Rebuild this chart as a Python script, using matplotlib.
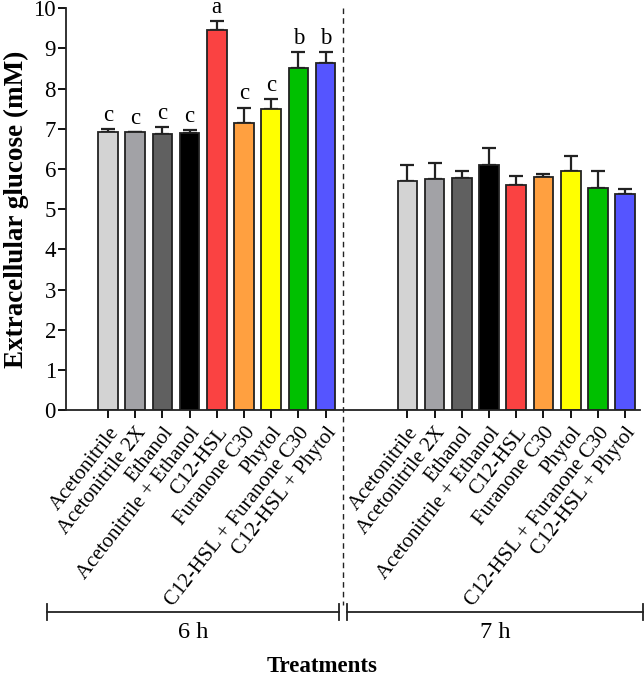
import matplotlib
matplotlib.use('Agg')
import matplotlib.pyplot as plt
from matplotlib.lines import Line2D

treatments = ['Acetonitrile', 'Acetonitrile 2X', 'Ethanol', 'Acetonitrile + Ethanol',
              'C12-HSL', 'Furanone C30', 'Phytol', 'C12-HSL + Furanone C30',
              'C12-HSL + Phytol']
colors = ['#d3d3d3', '#a2a2a6', '#606060', '#000000', '#fa4242',
          '#ffa040', '#ffff00', '#00c000', '#5555ff']

# 6 h
mean_6h = [6.91, 6.91, 6.88, 6.90, 9.46, 7.15, 7.49, 8.52, 8.64]
sd_6h = [0.09, 0.02, 0.17, 0.07, 0.22, 0.38, 0.26, 0.38, 0.27]
letters_6h = ['c', 'c', 'c', 'c', 'a', 'c', 'c', 'b', 'b']

# 7 h
mean_7h = [5.70, 5.75, 5.77, 6.10, 5.60, 5.79, 5.95, 5.52, 5.38]
sd_7h = [0.41, 0.39, 0.18, 0.43, 0.23, 0.08, 0.38, 0.42, 0.12]

groups = ['6 h', '7 h']

plt.rcParams['font.family'] = ['Liberation Serif', 'DejaVu Serif']

fig = plt.figure(figsize=(6.44, 6.86), dpi=100)
ax = fig.add_axes([0.102, 0.402, 0.892, 0.586])

x6 = list(range(len(treatments)))
x7 = [11 + i for i in range(len(treatments))]

for xs, means, sds in [(x6, mean_6h, sd_6h), (x7, mean_7h, sd_7h)]:
    ax.bar(xs, means, width=0.72, color=colors, edgecolor='#222222', linewidth=1.3, zorder=2)
    ax.errorbar(xs, means, yerr=[[0] * len(sds), sds], fmt='none', ecolor='#222222',
                elinewidth=1.6, capsize=5, capthick=1.6, zorder=1)

for x, m, s, l in zip(x6, mean_6h, sd_6h, letters_6h):
    ax.text(x, m + s + 0.2, l, ha='center', va='baseline', fontsize=16.5, clip_on=False)

ax.set_xlim(-1.55, 19.55)
ax.set_ylim(0, 10)
ax.set_yticks(range(0, 11))
ax.tick_params(axis='y', labelsize=16.5, length=6, width=1.3, direction='out', pad=1)
ax.tick_params(axis='x', labelsize=15, length=6, width=1.3, direction='out')
ax.set_xticks(x6 + x7)
ax.set_xticklabels(treatments + treatments, rotation=52, ha='right', rotation_mode='anchor')
for side in ['top', 'right']:
    ax.spines[side].set_visible(False)
for side in ['left', 'bottom']:
    ax.spines[side].set_linewidth(1.3)
    ax.spines[side].set_color('#222222')
ax.set_ylabel('Extracellular glucose (mM)', fontsize=19.5, fontweight='bold', labelpad=3)

# dashed separator
fig.add_artist(Line2D([0.5326, 0.5326], [0.988, 0.118], transform=fig.transFigure,
                      color='#222222', lw=1.0, ls=(0, (4, 3))))

# group brackets
yb = 1 - 612 / 686
tk = 0.012
for (x0, x1), g in zip([(47 / 644, 339 / 644), (347 / 644, 643 / 644)], groups):
    fig.add_artist(Line2D([x0, x1], [yb, yb], transform=fig.transFigure, color='#222222', lw=1.3))
    for xe in (x0, x1):
        fig.add_artist(Line2D([xe, xe], [yb - tk, yb + tk], transform=fig.transFigure,
                              color='#222222', lw=1.3))
    fig.text((x0 + x1) / 2, 1 - 632 / 686, g, ha='center', va='center', fontsize=17.5)

fig.text(0.5, 1 - 667 / 686, 'Treatments', ha='center', va='center',
         fontsize=16.5, fontweight='bold')

fig.savefig('out.png', dpi=100)
